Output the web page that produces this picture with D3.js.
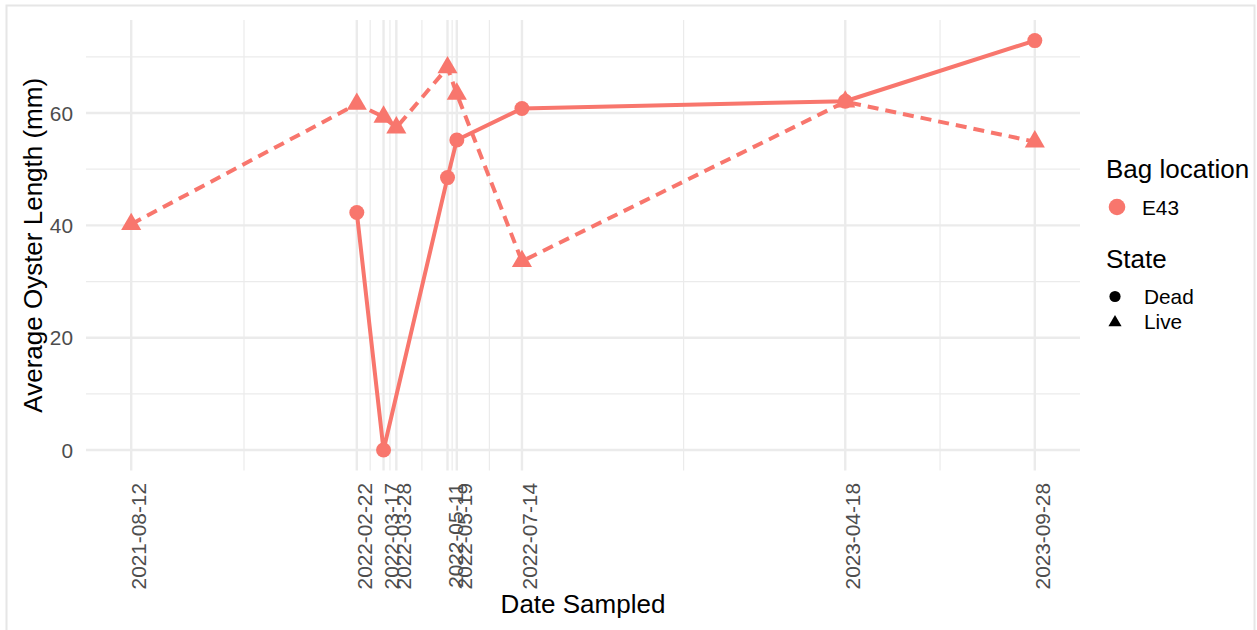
<!DOCTYPE html>
<html>
<head>
<meta charset="utf-8">
<script src="https://cdn.jsdelivr.net/npm/d3@7"></script>
<style>
  html, body { margin: 0; padding: 0; background: #ffffff; }
  svg { display: block; font-family: "Liberation Sans", Arial, Helvetica, sans-serif; }
</style>
</head>
<body>
<svg id="chart" width="1257" height="630"></svg>
<script>
// Sampling dates shown as x-axis breaks
const sampleDates = ["2021-08-12", "2022-02-22", "2022-03-17", "2022-03-28", "2022-05-11",
                     "2022-05-19", "2022-07-14", "2023-04-18", "2023-09-28"];

// Average oyster length (mm) by state, bag E43
const deadDates  = ["2022-02-22", "2022-03-17", "2022-05-11", "2022-05-19", "2022-07-14", "2023-04-18", "2023-09-28"];
const deadLength = [42.3, 0, 48.5, 55.2, 60.8, 62.1, 72.9];
const liveDates  = ["2021-08-12", "2022-02-22", "2022-03-17", "2022-03-28", "2022-05-11",
                    "2022-05-19", "2022-07-14", "2023-04-18", "2023-09-28"];
const liveLength = [40.2, 61.6, 59.3, 57.4, 68.1, 63.4, 33.6, 62.0, 54.9];

const yTicks = [0, 20, 40, 60];
const yMinor = [10, 30, 50, 70];

const bagColor = "#F8766D";
const parse = d3.utcParse("%Y-%m-%d");

const svg = d3.select("#chart");

// outer frame
svg.append("rect")
  .attr("x", 6.5).attr("y", 5.5).attr("width", 1248).attr("height", 640)
  .attr("fill", "#ffffff").attr("stroke", "#e6e6e6").attr("stroke-width", 2);

const panel = { left: 86, right: 1080, top: 20.1, bottom: 470.5 };

// x scale with 5% expansion around the sampled range
const tMin = parse(sampleDates[0]), tMax = parse(sampleDates[sampleDates.length - 1]);
const tSpan = tMax - tMin;
const x = d3.scaleUtc()
  .domain([new Date(+tMin - 0.05 * tSpan), new Date(+tMax + 0.05 * tSpan)])
  .range([panel.left, panel.right]);

const allVals = deadLength.concat(liveLength);
const vMin = d3.min(allVals), vMax = d3.max(allVals), vSpan = vMax - vMin;
const y = d3.scaleLinear()
  .domain([vMin - 0.05 * vSpan, vMax + 0.05 * vSpan])
  .range([panel.bottom, panel.top]);

const grid = svg.append("g");
// minor vertical lines at midpoints between breaks
const breakTimes = sampleDates.map(parse);
const minorTimes = d3.pairs(breakTimes).map(([a, b]) => new Date((+a + +b) / 2));

grid.selectAll(".ymin").data(yMinor).join("line")
  .attr("x1", panel.left).attr("x2", panel.right)
  .attr("y1", d => y(d)).attr("y2", d => y(d))
  .attr("stroke", "#ebebeb").attr("stroke-width", 1.2);
grid.selectAll(".xmin").data(minorTimes).join("line")
  .attr("x1", d => x(d)).attr("x2", d => x(d))
  .attr("y1", panel.top).attr("y2", panel.bottom)
  .attr("stroke", "#ebebeb").attr("stroke-width", 1.2);
grid.selectAll(".ymaj").data(yTicks).join("line")
  .attr("x1", panel.left).attr("x2", panel.right)
  .attr("y1", d => y(d)).attr("y2", d => y(d))
  .attr("stroke", "#ebebeb").attr("stroke-width", 2.4);
grid.selectAll(".xmaj").data(breakTimes).join("line")
  .attr("x1", d => x(d)).attr("x2", d => x(d))
  .attr("y1", panel.top).attr("y2", panel.bottom)
  .attr("stroke", "#ebebeb").attr("stroke-width", 2.4);

const dead = deadDates.map((d, i) => ({ t: parse(d), v: deadLength[i] }));
const live = liveDates.map((d, i) => ({ t: parse(d), v: liveLength[i] }));

const line = d3.line().x(d => x(d.t)).y(d => y(d.v));

svg.append("path").datum(dead)
  .attr("d", line).attr("fill", "none")
  .attr("stroke", bagColor).attr("stroke-width", 4).attr("stroke-linejoin", "round");
svg.append("path").datum(live)
  .attr("d", line).attr("fill", "none")
  .attr("stroke", bagColor).attr("stroke-width", 4)
  .attr("stroke-dasharray", "11,7");

svg.selectAll(".dead").data(dead).join("circle")
  .attr("cx", d => x(d.t)).attr("cy", d => y(d.v)).attr("r", 7.5)
  .attr("fill", bagColor);
const tri = d3.symbol().type(d3.symbolTriangle).size(175);
svg.selectAll(".live").data(live).join("path")
  .attr("transform", d => `translate(${x(d.t)},${y(d.v)})`)
  .attr("d", tri).attr("fill", bagColor);

// y tick labels
svg.selectAll(".ylab").data(yTicks).join("text")
  .attr("x", 73).attr("y", d => y(d)).attr("dy", "0.36em")
  .attr("text-anchor", "end").attr("font-size", 20.8).attr("fill", "#4d4d4d")
  .text(d => d);

// x tick labels, vertical
svg.selectAll(".xlab").data(sampleDates).join("text")
  .attr("transform", d => `translate(${x(parse(d)) + 15},483) rotate(-90)`)
  .attr("text-anchor", "end").attr("font-size", 20.8).attr("fill", "#4d4d4d")
  .text(d => d);

// axis titles
svg.append("text")
  .attr("x", (panel.left + panel.right) / 2).attr("y", 613)
  .attr("text-anchor", "middle").attr("font-size", 26).attr("fill", "#000")
  .text("Date Sampled");
svg.append("text")
  .attr("transform", `translate(42,${(panel.top + panel.bottom) / 2}) rotate(-90)`)
  .attr("text-anchor", "middle").attr("font-size", 26).attr("fill", "#000")
  .text("Average Oyster Length (mm)");

// legends
const lg = svg.append("g");
lg.append("text").attr("x", 1106).attr("y", 178).attr("font-size", 26).text("Bag location");
lg.append("circle").attr("cx", 1117).attr("cy", 207).attr("r", 8.3).attr("fill", bagColor);
lg.append("text").attr("x", 1142).attr("y", 214.5).attr("font-size", 20.8).text("E43");

lg.append("text").attr("x", 1106).attr("y", 268).attr("font-size", 26).text("State");
lg.append("circle").attr("cx", 1115).attr("cy", 296.5).attr("r", 5.6).attr("fill", "#000");
lg.append("text").attr("x", 1144).attr("y", 304).attr("font-size", 20.8).text("Dead");
lg.append("path").attr("transform", "translate(1115,322.5)")
  .attr("d", d3.symbol().type(d3.symbolTriangle).size(75)).attr("fill", "#000");
lg.append("text").attr("x", 1144).attr("y", 328.5).attr("font-size", 20.8).text("Live");
</script>
</body>
</html>
